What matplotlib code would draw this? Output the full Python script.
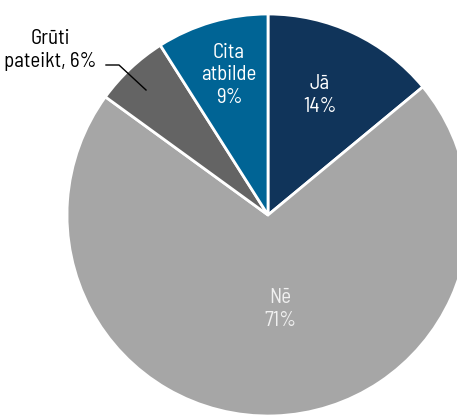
import matplotlib.pyplot as plt

# survey answers (share, %)
labels = ["Jā", "Nē", "Grūti pateikt", "Cita atbilde"]
values = [14, 71, 6, 9]
colors = ["#10345a", "#a6a6a6", "#646464", "#006495"]

plt.rcParams['font.family'] = ['Barlow Semi Condensed', 'DejaVu Sans']

fig = plt.figure(figsize=(4.57, 4.16), dpi=100)
ax = fig.add_axes([0, 0, 1, 1])

cx, cy, r = 268, 201, 201
ax.pie(values, colors=colors, startangle=90, counterclock=False,
       center=(cx, cy), radius=r, frame=True,
       wedgeprops=dict(edgecolor='white', linewidth=2))
ax.set_xlim(0, 457)
ax.set_ylim(0, 416)
ax.set_aspect('equal')
ax.axis('off')

fs = 15
ls = 1.25
ax.text(320, 321, "Jā\n14%", color='white', ha='center', va='center',
        fontsize=fs, linespacing=ls)
ax.text(229, 341, "Cita\natbilde\n9%", color='white', ha='center', va='center',
        fontsize=fs, linespacing=ls)
ax.text(280, 107, "Nē\n71%", color='#f0f0f0', ha='center', va='center',
        fontsize=fs, linespacing=ls)
ax.text(97, 366, "Grūti\npateikt, 6%", color='black', ha='right', va='center',
        multialignment='center', fontsize=fs, linespacing=ls)
ax.plot([106, 119, 146], [351, 351, 326], color='black', linewidth=1)

fig.savefig("out.png", dpi=100)
